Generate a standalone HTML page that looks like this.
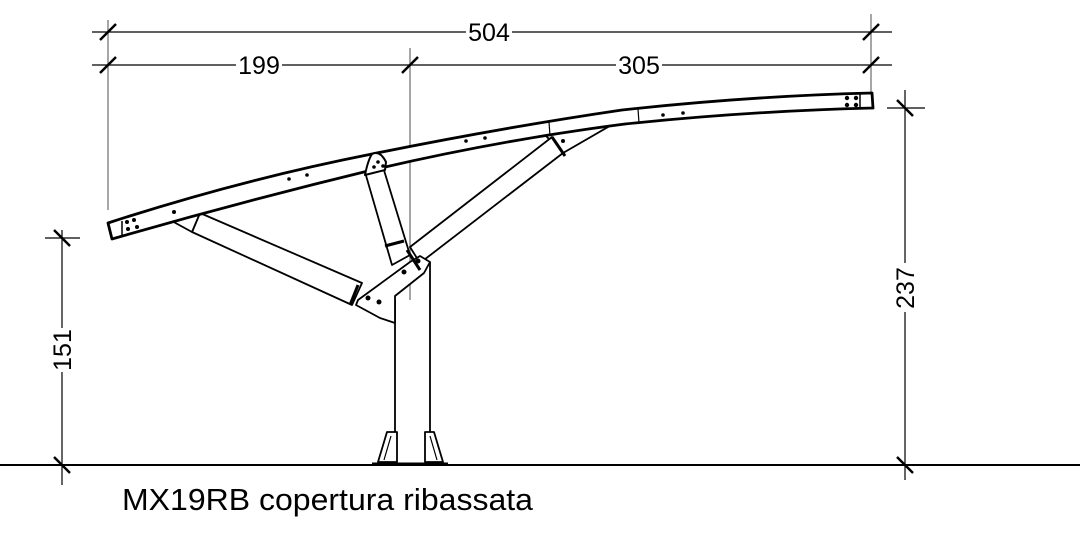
<!DOCTYPE html>
<html><head><style>
html,body{margin:0;padding:0;background:#fff;}
svg{display:block;}
text{font-family:"Liberation Sans",sans-serif;}
</style></head><body>
<svg width="1092" height="538" viewBox="0 0 1092 538" xmlns="http://www.w3.org/2000/svg">
<g stroke="#888" stroke-width="1.5" fill="none">
<line x1="108" y1="20" x2="108" y2="210"/>
<line x1="410" y1="48" x2="410" y2="300"/>
<line x1="871" y1="14" x2="871" y2="92"/>
</g>
<g stroke="#000" stroke-width="1.2" fill="none">
<line x1="92" y1="32" x2="466" y2="32"/><line x1="512" y1="32" x2="892" y2="32"/>
<line x1="92" y1="65" x2="236" y2="65"/><line x1="282" y1="65" x2="616" y2="65"/><line x1="662" y1="65" x2="892" y2="65"/>
<line x1="62" y1="230" x2="62" y2="328"/><line x1="62" y1="372" x2="62" y2="485"/>
<line x1="45" y1="238" x2="80" y2="238"/>
<line x1="905" y1="90" x2="905" y2="263"/><line x1="905" y1="312" x2="905" y2="480"/>
<line x1="887" y1="108" x2="925" y2="108"/>
<line x1="0" y1="465" x2="1080" y2="465" stroke-width="2"/>
</g>
<g stroke="#000" stroke-width="2.5">
<line x1="100" y1="40" x2="116" y2="24"/><line x1="863" y1="40" x2="879" y2="24"/>
<line x1="100" y1="73" x2="116" y2="57"/><line x1="402" y1="73" x2="418" y2="57"/><line x1="863" y1="73" x2="879" y2="57"/>
<line x1="54" y1="230" x2="70" y2="246"/><line x1="54" y1="457" x2="70" y2="473"/>
<line x1="897" y1="100" x2="913" y2="116"/><line x1="897" y1="457" x2="913" y2="473"/>
</g>
<g font-size="25" fill="#000">
<text x="489" y="41" text-anchor="middle">504</text>
<text x="259" y="74" text-anchor="middle">199</text>
<text x="639" y="74" text-anchor="middle">305</text>
<text transform="translate(71,350) rotate(-90)" text-anchor="middle">151</text>
<text transform="translate(914,288) rotate(-90)" text-anchor="middle">237</text>
</g>
<text x="122" y="510" font-size="31" fill="#000" textLength="411" lengthAdjust="spacingAndGlyphs">MX19RB copertura ribassata</text>
<g stroke="#000" fill="#fff" stroke-linejoin="round">
<!-- column -->
<path d="M395 300 L395 432 M430 262 L430 432" stroke-width="1.8"/>
<path d="M378 462 L387 432 L397 432 L397 462 Z M443 462 L434 432 L425 432 L425 462 Z" stroke-width="1.8"/>
<path d="M384 460 L391 436 M437 460 L430 436" stroke-width="1.2"/>
<line x1="372" y1="464" x2="448" y2="464" stroke-width="3"/>
<!-- left strut -->
<path d="M200 213 L362 283 L352 305 L192 232 Z" stroke-width="1.8"/>
<path d="M168 210 L200 213 L192 232 L170 220 Z" stroke-width="1.8"/>
<!-- vertical strut -->
<path d="M365 172 L383 167 L410 255 L392 265 Z" stroke-width="1.8"/>
<line x1="385" y1="246" x2="404" y2="241" stroke-width="3"/>
<!-- diagonal strut gusset -->
<path d="M545 135 L634 112 L563 153 Z" stroke-width="1.8"/>
<!-- diagonal strut -->
<path d="M410 247 L552 137 L563 153 L420 263 Z" stroke-width="1.8"/>
<line x1="552" y1="137" x2="565" y2="156" stroke-width="3"/>
<!-- column gusset -->
<path d="M358 300 L410 262 L420 256 L430 262 L424 273 L395 296 L395 323 L380 318 L356 305 Z" stroke-width="1.8"/>
<line x1="407" y1="250" x2="420" y2="270" stroke-width="3"/>
<line x1="358" y1="285" x2="350" y2="305" stroke-width="3"/>
<!-- beam -->
<path d="M108 223 Q240 180 372 154 Q500 128 622 110 Q750 96 872 93 L873 108 Q750 111 625 124 Q500 140 372 170 Q240 202 112 239 Z" stroke-width="2.8"/>
<path d="M372 154 Q380 150 386 162 L385 170 L365 175 Q368 160 372 154 Z" stroke-width="2"/>
<line x1="122" y1="221" x2="122" y2="236" stroke-width="1.5"/>
<line x1="549" y1="122" x2="550" y2="136" stroke-width="1.2"/>
<line x1="638" y1="109" x2="639" y2="123" stroke-width="1.2"/>
<line x1="860" y1="94" x2="860" y2="108" stroke-width="1.5"/>
</g>
<g fill="#000">
<circle cx="127" cy="222" r="2"/><circle cx="134" cy="220" r="2"/><circle cx="128" cy="229" r="2"/><circle cx="137" cy="227" r="2"/>
<circle cx="174" cy="212" r="2"/>
<circle cx="289" cy="179" r="1.8"/><circle cx="307" cy="175" r="1.8"/>
<circle cx="378" cy="162" r="1.8"/><circle cx="383" cy="166" r="1.8"/><circle cx="374" cy="167" r="1.8"/>
<circle cx="466" cy="141" r="1.8"/><circle cx="485" cy="138" r="1.8"/>
<circle cx="563" cy="141" r="2"/>
<circle cx="663" cy="115" r="1.8"/><circle cx="683" cy="113" r="1.8"/>
<circle cx="847" cy="98" r="2.2"/><circle cx="856" cy="98" r="2.2"/><circle cx="847" cy="105" r="2.2"/><circle cx="856" cy="105" r="2.2"/>
<circle cx="368" cy="298" r="2.5"/><circle cx="379" cy="302" r="2.5"/>
<circle cx="404" cy="272" r="2.5"/><circle cx="418" cy="261" r="2.5"/>
</g>
</svg>
</body></html>
